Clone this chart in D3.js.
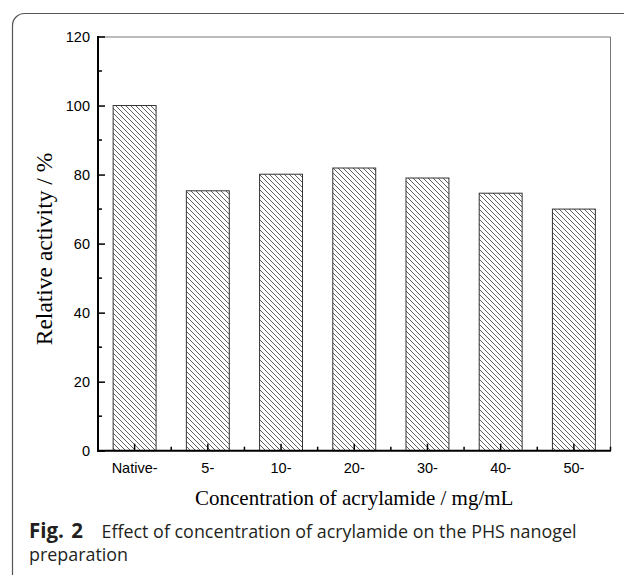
<!DOCTYPE html>
<html><head><meta charset="utf-8">
<script src="https://cdn.jsdelivr.net/npm/d3@7"></script>
<style>body{margin:0;background:#fff;} svg{display:block;}</style>
</head><body>
<script>
const categories = ["Native-", "5-", "10-", "20-", "30-", "40-", "50-"];
const values = [100, 75.3, 80.1, 81.9, 79.0, 74.6, 70.0];
const yTicks = [0, 20, 40, 60, 80, 100, 120];
const yMinorTicks = [10, 30, 50, 70, 90, 110];

const W = 624, H = 575;
const m = {left: 98, top: 36.5, right: 610.5, bottom: 450.7};
const svg = d3.select("body").append("svg").attr("width", W).attr("height", H);

// frame
svg.append("rect").attr("x", 12.5).attr("y", 13.5).attr("width", 640).attr("height", 600)
  .attr("rx", 12).attr("fill", "none").attr("stroke", "#555").attr("stroke-width", 1.2);

const defs = svg.append("defs");
const S = 5;
const pat = defs.append("pattern").attr("id", "hatch").attr("patternUnits", "userSpaceOnUse")
  .attr("width", S).attr("height", S);
pat.append("path").attr("d", `M-1,-1 L${S+1},${S+1} M-1,${S-1} L1,${S+1} M${S-1},-1 L${S+1},1`)
  .attr("stroke", "#444").attr("stroke-width", 0.85);

const x = d3.scaleBand().domain(categories).range([m.left, m.right]).paddingInner(0.4).paddingOuter(0.2);
const y = d3.scaleLinear().domain([0, 120]).range([m.bottom, m.top]);

// plot border top/right
svg.append("path").attr("d", `M${m.left},${m.top+0.5} H${m.right} V${m.bottom}`)
  .attr("fill", "none").attr("stroke", "#777").attr("stroke-width", 1);

// bars
svg.selectAll("rect.bar").data(values).enter().append("rect")
  .attr("x", (d, i) => x(categories[i]) + 0.5)
  .attr("y", d => y(d))
  .attr("width", x.bandwidth() - 1)
  .attr("height", d => y(0) - y(d))
  .attr("fill", "url(#hatch)").attr("stroke", "#333").attr("stroke-width", 1);

const tickFont = "Arial, 'Liberation Sans', sans-serif";
// y axis
const yAxis = d3.axisLeft(y).tickValues(yTicks).tickSize(-7).tickPadding(8).tickFormat(d3.format("d"));
const gy = svg.append("g").attr("transform", `translate(${m.left},0)`).call(yAxis);
gy.attr("font-size", 14.5).attr("font-family", tickFont);
gy.select(".domain").remove();
gy.selectAll(".tick line").attr("stroke", "#000").attr("stroke-width", 1.5);
gy.selectAll("text").attr("fill", "#000");
gy.selectAll(".minor").data(yMinorTicks).enter().append("line")
  .attr("x1", 0).attr("x2", 4).attr("y1", d => y(d)).attr("y2", d => y(d))
  .attr("stroke", "#000").attr("stroke-width", 1.5);
svg.append("line").attr("x1", m.left).attr("x2", m.left).attr("y1", m.top - 0.5).attr("y2", m.bottom + 1)
  .attr("stroke", "#000").attr("stroke-width", 2);

// x axis
const xAxis = d3.axisBottom(x).tickSize(-7).tickPadding(12);
const gx = svg.append("g").attr("transform", `translate(0,${m.bottom})`).call(xAxis);
gx.attr("font-size", 14.5).attr("font-family", tickFont);
gx.select(".domain").remove();
gx.selectAll(".tick line").attr("stroke", "#000").attr("stroke-width", 1.5);
gx.selectAll("text").attr("fill", "#000");
const bounds = categories.map(c => x(c) - x.step() * 0.2);
bounds.push(m.right);
gx.selectAll(".minor").data(bounds).enter().append("line")
  .attr("x1", d => d).attr("x2", d => d).attr("y1", 0).attr("y2", -4)
  .attr("stroke", "#000").attr("stroke-width", 1.5);
svg.append("line").attr("x1", m.left - 1).attr("x2", m.right + 0.5).attr("y1", m.bottom).attr("y2", m.bottom)
  .attr("stroke", "#000").attr("stroke-width", 2);

// axis titles
const serif = "'Liberation Serif', 'Times New Roman', serif";
svg.append("text").attr("x", (m.left + m.right) / 2).attr("y", 505).attr("text-anchor", "middle")
  .attr("font-family", serif).attr("font-size", 21)
  .text("Concentration of acrylamide / mg/mL");
svg.append("text").attr("transform", `translate(51.5,249) rotate(-90)`).attr("text-anchor", "middle")
  .attr("font-family", serif).attr("font-size", 23.5)
  .text("Relative activity / %");

// caption
const capFont = "'Open Sans', 'Noto Sans', sans-serif";
const cap = svg.append("text").attr("y", 538)
  .attr("font-family", capFont).attr("font-size", 17.9).attr("fill", "#231f20");
cap.append("tspan").attr("x", 29).attr("font-weight", "bold").attr("font-size", 20.5)
  .attr("word-spacing", 2).text("Fig. 2");
cap.append("tspan").attr("x", 101.5).text("Effect of concentration of acrylamide on the PHS nanogel");
svg.append("text").attr("x", 29).attr("y", 561)
  .attr("font-family", capFont).attr("font-size", 17.9).attr("fill", "#231f20")
  .text("preparation");
</script>
</body></html>
